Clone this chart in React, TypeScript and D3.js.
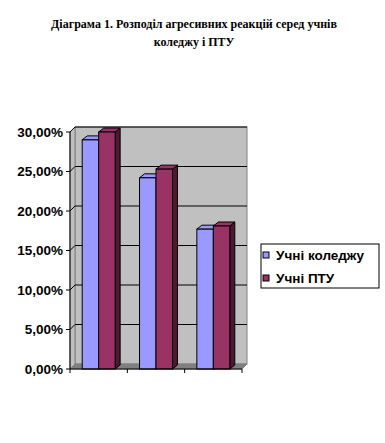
import React from "react"
import * as d3 from "d3"

const categories = ["1", "2", "3"]
const seriesNames = ["Учні коледжу", "Учні ПТУ"]
const college = [0.29, 0.242, 0.177]
const ptu = [0.3, 0.253, 0.181]
const yTicks = [0, 0.05, 0.1, 0.15, 0.2, 0.25, 0.3]

const fill = ["#9999FF", "#993366"]
const side = ["#4D4D80", "#4C1933"]
const top = ["#9999FF", "#993366"]

const W = 385
const H = 443
const DX = 5
const DY = -5
const BDX = 5
const BDY = -4

const fmt = (v: number) => (v * 100).toFixed(2).replace(".", ",") + "%"

export default function App() {
    const y = d3.scaleLinear().domain([0, 0.3]).range([369, 132])
    const x0 = d3.scaleBand().domain(categories).range([70, 242]).padding(0)
    const x1 = d3
        .scaleBand()
        .domain(seriesNames)
        .range([0, x0.bandwidth()])
        .paddingInner(0)
        .paddingOuter(0.74)

    const [y0, y1] = y.range()
    const [xl, xr] = x0.range()
    const values = [college, ptu]

    const bars: JSX.Element[] = []
    categories.forEach((c, i) => {
        seriesNames.forEach((s, j) => {
            const bx = (x0(c) || 0) + (x1(s) || 0)
            const bw = x1.bandwidth()
            const by = y(values[j][i])
            const pts = (a: number[][]) => a.map((p) => p.join(",")).join(" ")
            bars.push(
                <g key={c + s}>
                    <polygon
                        points={pts([
                            [bx + bw, by],
                            [bx + bw + BDX, by + BDY],
                            [bx + bw + BDX, y0 + BDY],
                            [bx + bw, y0],
                        ])}
                        fill={side[j]}
                        stroke="#000"
                        strokeWidth={1}
                    />
                    <polygon
                        points={pts([
                            [bx, by],
                            [bx + BDX, by + BDY],
                            [bx + bw + BDX, by + BDY],
                            [bx + bw, by],
                        ])}
                        fill={top[j]}
                        stroke="#000"
                        strokeWidth={1}
                    />
                    <rect
                        x={bx}
                        y={by}
                        width={bw}
                        height={y0 - by}
                        fill={fill[j]}
                        stroke="#000"
                        strokeWidth={1}
                    />
                </g>,
            )
        })
    })

    return (
        <div style={{ position: "absolute", left: 0, top: 0 }}>
            <svg width={W} height={H} style={{ display: "block", background: "#fff" }}>
                <g
                    fontFamily="'Liberation Serif', 'Times New Roman', serif"
                    fontWeight="bold"
                    fontSize={12}
                    textAnchor="middle"
                    fill="#000"
                >
                    <text x={194} y={28}>
                        Діаграма 1. Розподіл агресивних реакцій серед учнів
                    </text>
                    <text x={194} y={46}>
                        коледжу і ПТУ
                    </text>
                </g>

                {/* walls */}
                <rect
                    x={xl + DX}
                    y={y1 + DY}
                    width={xr - xl}
                    height={y0 - y1}
                    fill="#C0C0C0"
                    stroke="#808080"
                    strokeWidth={1}
                />
                <polygon
                    points={`${xl},${y1} ${xl + DX},${y1 + DY} ${xl + DX},${y0 + DY} ${xl},${y0}`}
                    fill="#C0C0C0"
                    stroke="#808080"
                    strokeWidth={1}
                />
                <polygon
                    points={`${xl},${y0} ${xl + DX},${y0 + DY} ${xr + DX},${y0 + DY} ${xr},${y0}`}
                    fill="#808080"
                    stroke="#808080"
                    strokeWidth={1}
                />
                {yTicks.slice(1).map((t) => (
                    <g key={t}>
                        <line
                            x1={xl + DX}
                            x2={xr + DX}
                            y1={y(t) + DY}
                            y2={y(t) + DY}
                            stroke="#000"
                            strokeWidth={1}
                        />
                        <line
                            x1={xl}
                            x2={xl + DX}
                            y1={y(t)}
                            y2={y(t) + DY}
                            stroke="#000"
                            strokeWidth={1}
                        />
                    </g>
                ))}

                {bars}

                {/* axes */}
                <line x1={xl} x2={xl} y1={y1} y2={y0} stroke="#000" />
                <line x1={xl} x2={xr} y1={y0} y2={y0} stroke="#000" />
                {yTicks.map((t) => (
                    <g key={t}>
                        <line x1={xl - 4} x2={xl} y1={y(t)} y2={y(t)} stroke="#000" />
                        <text
                            x={63}
                            y={y(t) + 4.5}
                            textAnchor="end"
                            fontFamily="'Liberation Sans', Arial, sans-serif"
                            fontWeight="bold"
                            fontSize={13.5}
                        >
                            {fmt(t)}
                        </text>
                    </g>
                ))}
                {[...categories.map((c) => x0(c) || 0), xr].map((v) => (
                    <line key={v} x1={v} x2={v} y1={y0} y2={y0 + 4} stroke="#000" />
                ))}

                {/* legend */}
                <rect x={261} y={244} width={118} height={44} fill="#fff" stroke="#000" />
                {seriesNames.map((s, j) => (
                    <g key={s}>
                        <rect
                            x={263}
                            y={252 + j * 23}
                            width={6}
                            height={6}
                            fill={fill[j]}
                            stroke="#000"
                        />
                        <text
                            x={276}
                            y={259.5 + j * 23}
                            fontFamily="'Liberation Sans', Arial, sans-serif"
                            fontWeight="bold"
                            fontSize={13.5}
                        >
                            {s}
                        </text>
                    </g>
                ))}
            </svg>
        </div>
    )
}
